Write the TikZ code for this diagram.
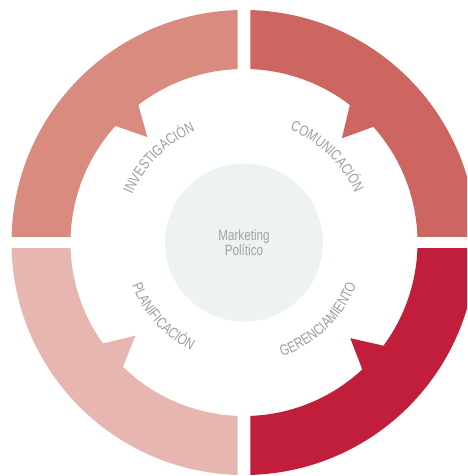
\documentclass[tikz,border=0pt]{standalone}
\usepackage{fontspec}
\setmainfont{Liberation Sans}
\newfontfamily\labelfont[FakeStretch=0.78]{Liberation Sans}
\usetikzlibrary{decorations.text}

\definecolor{quadTL}{HTML}{D98B80}
\definecolor{quadTR}{HTML}{CD6660}
\definecolor{quadBR}{HTML}{C01E3A}
\definecolor{quadBL}{HTML}{E8B6B0}
\definecolor{labelgray}{HTML}{9C9C9C}
\definecolor{coregray}{HTML}{EDF3F1}
\definecolor{coretext}{HTML}{A0A4A4}

\def\Rout{232.5pt}
\def\Rin{173.5pt}
\def\Rtip{143pt}
\def\gap{6.3}

\begin{document}
\begin{tikzpicture}[
    x=1pt, y=1pt,
    % --- Text styles ---
    arclabel/.style={decorate, decoration={text along path,
        text={|\labelfont\fontsize{15}{16}\selectfont|#1},
        text align={fit to path}, text color=labelgray}},
    core/.style={circle, fill=coregray, minimum size=158pt, inner sep=0pt,
        font=\labelfont\fontsize{15}{15}\selectfont, text=coretext, align=center},
]
\useasboundingbox (-244,-233.5) rectangle (223,242.5);
\clip (-244,-233.5) rectangle (223,242.5);

% === Ring quadrants with barbs ===
\foreach \s/\sx/\sy/\a/\b/\c/\col in {180/-1/1/137.8/132.5/127.5/quadTL,
    90/1/1/52.4/46.8/41.8/quadTR, 0/1/-1/-36.5/-42/-47/quadBR,
    270/-1/-1/225.8/220.6/215.6/quadBL}{
  \begin{scope}
    \clip (\sx*\gap, \sy*\gap) rectangle (\sx*250, \sy*250);
    \fill[\col] (\s:\Rout) arc[start angle=\s, end angle=\s-90, radius=\Rout]
      -- ({\s-90}:\Rin) arc[start angle=\s-90, end angle=\c, radius=\Rin]
      -- (\b:\Rtip) -- (\a:\Rin) arc[start angle=\a, end angle=\s, radius=\Rin]
      -- cycle;
  \end{scope}
}

% === Centre ===
\node[core] (core) at (0,0) {Marketing\\Político};

% === Curved labels ===
\path[arclabel=INVESTIGACIÓN] (156.8:121.5pt) arc[start angle=156.8, end angle=113.8, radius=121.5pt];
\path[arclabel=COMUNICACIÓN] (67.8:121.5pt) arc[start angle=67.8, end angle=25.5, radius=121.5pt];
\path[arclabel=PLANIFICACIÓN] (201:120pt) arc[start angle=201, end angle=243, radius=120pt];
\path[arclabel=GERENCIAMIENTO] (-71.5:120pt) arc[start angle=-71.5, end angle=-21, radius=120pt];

\end{tikzpicture}
\end{document}
